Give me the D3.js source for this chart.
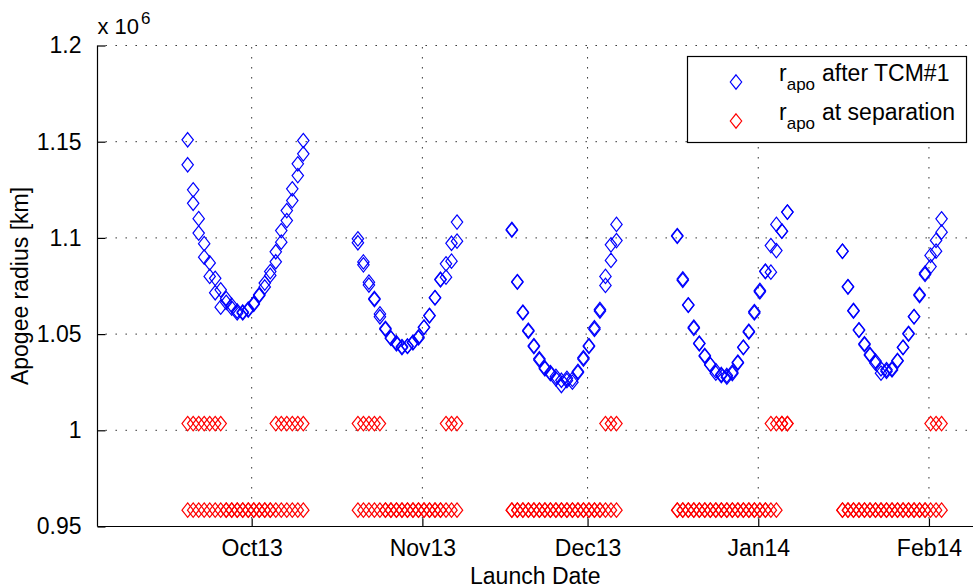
<!DOCTYPE html>
<html>
<head>
<meta charset="utf-8">
<script src="https://cdn.jsdelivr.net/npm/d3@7"></script>
<style>
  body { margin: 0; background: #fff; }
  text { font-family: "Liberation Sans", Arial, Helvetica, sans-serif; fill: #000; }
</style>
</head>
<body>
<div id="chart"></div>
<script>
// first launch day of each window (UTC)
const windowStarts = ["2013-09-19T09:00Z", "2013-10-20T07:00Z", "2013-11-17T06:00Z", "2013-12-17T07:00Z", "2014-01-16T07:00Z"]

// r_apo after TCM#1 [x 10^6 km], two launch solutions per day
const tcmOct = [[1.151, 1.138], [1.125, 1.118], [1.110, 1.1025], [1.097, 1.090], [1.087, 1.080], [1.079, 1.0715],
  [1.073, 1.064], [1.0685, 1.0665], [1.065, 1.0635], [1.062, 1.061], [1.061, 1.0615], [1.063, 1.0625],
  [1.066, 1.0655], [1.0705, 1.070], [1.0765, 1.0745], [1.0825, 1.0805], [1.0928, 1.0876], [1.1038, 1.0978],
  [1.1142, 1.109], [1.1255, 1.1194], [1.1385, 1.1324], [1.1506, 1.1437]]
const tcmNov = [[1.0995, 1.0975], [1.0875, 1.086], [1.077, 1.0755], [1.0685, 1.068], [1.0605, 1.059], [1.053, 1.0525],
  [1.048, 1.0478], [1.0455, 1.045], [1.0435, 1.043], [1.0436, 1.0438], [1.0458, 1.0455], [1.0485, 1.048],
  [1.0536, 1.0535], [1.0597, 1.0595], [1.069, 1.0688], [1.0782, 1.0785], [1.0865, 1.0796], [1.0972, 1.0879],
  [1.1082, 1.0983]]
const tcmDec = [[1.1044, 1.104], [1.0773, 1.077], [1.0614, 1.061], [1.052, 1.0515], [1.044, 1.0435], [1.0372, 1.0365],
  [1.0325, 1.032], [1.030, 1.0295], [1.0268, 1.028], [1.0233, 1.026], [1.0259, 1.027], [1.025, 1.0265],
  [1.0306, 1.030], [1.0377, 1.037], [1.0436, 1.044], [1.0533, 1.0525], [1.0628, 1.062], [1.0753, 1.080],
  [1.0883, 1.0964], [1.0986, 1.107]]
const tcmJan = [[1.1012, 1.1008], [1.0787, 1.078], [1.0652, 1.065], [1.0536, 1.053], [1.0453, 1.045], [1.0389, 1.0385],
  [1.0342, 1.034], [1.0297, 1.031], [1.0285, 1.029], [1.0276, 1.0285], [1.0302, 1.0295], [1.0354, 1.035],
  [1.0432, 1.043], [1.0515, 1.051], [1.0617, 1.061], [1.0727, 1.072], [1.0827, 1.0825], [1.0822, 1.096],
  [1.0934, 1.107], [1.1035, 1.1035], [1.1134, 1.1134]]
const tcmFeb = [[1.0931, 1.093], [1.0747, 1.0745], [1.0623, 1.062], [1.0522, 1.052], [1.045, 1.0445], [1.0394, 1.039],
  [1.0349, 1.036], [1.0297, 1.032], [1.0307, 1.0315], [1.0314, 1.032], [1.0363, 1.036], [1.0432, 1.043],
  [1.0504, 1.050], [1.0591, 1.059], [1.0706, 1.070], [1.0817, 1.081], [1.0851, 1.0909], [1.0931, 1.0987],
  [1.103, 1.1099]]

// r_apo at separation [x 10^6 km]
const sepOct = [[0.9585, 1.0035], [0.9585, 1.0035], [0.9585, 1.0035], [0.9585, 1.0035], [0.9585, 1.0035], [0.9585, 1.0035],
  [0.9585, 1.0035], [0.9585, 0.9585], [0.9585, 0.9585], [0.9585, 0.9585], [0.9585, 0.9585], [0.9585, 0.9585],
  [0.9585, 0.9585], [0.9585, 0.9585], [0.9585, 0.9585], [0.9585, 0.9585], [0.9585, 1.0035], [0.9585, 1.0035],
  [0.9585, 1.0035], [0.9585, 1.0035], [0.9585, 1.0035], [0.9585, 1.0035]]
const sepNov = [[0.9585, 1.0035], [0.9585, 1.0035], [0.9585, 1.0035], [0.9585, 1.0035], [0.9585, 1.0035], [0.9585, 0.9585],
  [0.9585, 0.9585], [0.9585, 0.9585], [0.9585, 0.9585], [0.9585, 0.9585], [0.9585, 0.9585], [0.9585, 0.9585],
  [0.9585, 0.9585], [0.9585, 0.9585], [0.9585, 0.9585], [0.9585, 0.9585], [0.9585, 1.0035], [0.9585, 1.0035],
  [0.9585, 1.0035]]
const sepDec = [[0.9585, 0.9585], [0.9585, 0.9585], [0.9585, 0.9585], [0.9585, 0.9585], [0.9585, 0.9585], [0.9585, 0.9585],
  [0.9585, 0.9585], [0.9585, 0.9585], [0.9585, 0.9585], [0.9585, 0.9585], [0.9585, 0.9585], [0.9585, 0.9585],
  [0.9585, 0.9585], [0.9585, 0.9585], [0.9585, 0.9585], [0.9585, 0.9585], [0.9585, 0.9585], [0.9585, 1.0035],
  [0.9585, 1.0035], [0.9585, 1.0035]]
const sepJan = [[0.9585, 0.9585], [0.9585, 0.9585], [0.9585, 0.9585], [0.9585, 0.9585], [0.9585, 0.9585], [0.9585, 0.9585],
  [0.9585, 0.9585], [0.9585, 0.9585], [0.9585, 0.9585], [0.9585, 0.9585], [0.9585, 0.9585], [0.9585, 0.9585],
  [0.9585, 0.9585], [0.9585, 0.9585], [0.9585, 0.9585], [0.9585, 0.9585], [0.9585, 0.9585], [0.9585, 1.0035],
  [0.9585, 1.0035], [1.0035, 1.0035], [1.0035, 1.0035]]
const sepFeb = [[0.9585, 0.9585], [0.9585, 0.9585], [0.9585, 0.9585], [0.9585, 0.9585], [0.9585, 0.9585], [0.9585, 0.9585],
  [0.9585, 0.9585], [0.9585, 0.9585], [0.9585, 0.9585], [0.9585, 0.9585], [0.9585, 0.9585], [0.9585, 0.9585],
  [0.9585, 0.9585], [0.9585, 0.9585], [0.9585, 0.9585], [0.9585, 0.9585], [0.9585, 1.0035], [0.9585, 1.0035],
  [0.9585, 1.0035]]

const tcmWindows = [tcmOct, tcmNov, tcmDec, tcmJan, tcmFeb]
const sepWindows = [sepOct, sepNov, sepDec, sepJan, sepFeb]

// axis limits and ticks
const xLimits = ["2013-09-03T00:00Z", "2014-02-09T00:00Z"]
const xTicks = ["2013-10-01T00:00Z", "2013-11-01T00:00Z", "2013-12-01T00:00Z", "2014-01-01T00:00Z", "2014-02-01T00:00Z"]
const yLimits = [0.95, 1.2]
const yTicks = [0.95, 1, 1.05, 1.1, 1.15, 1.2]

const width = 973, height = 588
const plotLeft = 97.5, plotRight = 973, plotTop = 45.5, plotBottom = 526.5
const diamond = "M0,-7.2L5.7,0L0,7.2L-5.7,0Z"
const fontSize = "23px"

function toPoints(windows) {
    return windows.flatMap((days, w) => days.flatMap((vals, i) =>
        vals.map(v => ({ date: d3.utcDay.offset(new Date(windowStarts[w]), i), value: v }))))
}

var svg = d3.select("#chart")
    .append("svg")
    .attr("width", width)
    .attr("height", height)

var x = d3.scaleUtc()
    .domain(xLimits.map(d => new Date(d)))
    .range([plotLeft, plotRight])

var y = d3.scaleLinear()
    .domain(yLimits)
    .range([plotBottom, plotTop])

// dotted grid
const grid = svg.append("g")
    .attr("stroke", "#222")
    .attr("stroke-width", 1)
    .attr("stroke-dasharray", "1.4,8.6")

grid.selectAll(".gy")
    .data(yTicks.slice(1))
    .enter()
    .append("line")
    .attr("x1", plotLeft + 8).attr("x2", plotRight)
    .attr("y1", d => y(d)).attr("y2", d => y(d))

grid.selectAll(".gx")
    .data(xTicks)
    .enter()
    .append("line")
    .attr("x1", d => x(new Date(d))).attr("x2", d => x(new Date(d)))
    .attr("y1", plotBottom - 8).attr("y2", plotTop)

// axes (MATLAB style: ticks inside, no box)
const yAxis = svg.append("g")
    .attr("transform", `translate(${plotLeft},0)`)
    .call(d3.axisLeft(y).tickValues(yTicks).tickSize(-8).tickPadding(16)
        .tickFormat(d => String(+d.toFixed(2))))
yAxis.select(".domain").attr("d", `M0,${plotTop}V${plotBottom}`)

const xAxis = svg.append("g")
    .attr("transform", `translate(0,${plotBottom})`)
    .call(d3.axisBottom(x).tickValues(xTicks.map(d => new Date(d))).tickSize(-8).tickPadding(13)
        .tickFormat(d3.utcFormat("%b%y")))
xAxis.select(".domain").attr("d", `M${plotLeft},0H${plotRight}`)

svg.selectAll(".tick text")
    .style("font-size", fontSize)
    .style("font-family", "'Liberation Sans', Arial, sans-serif")
    .attr("fill", "#000")
svg.selectAll(".domain, .tick line").attr("stroke", "#000").attr("stroke-width", 1.2)

// exponent
svg.append("text")
    .attr("x", plotLeft)
    .attr("y", 34)
    .style("font-size", "22px")
    .text("x 10")
    .append("tspan")
    .attr("dy", -10)
    .attr("dx", 2)
    .style("font-size", "17px")
    .text("6")

// axis labels
svg.append("text")
    .attr("x", (plotLeft + plotRight) / 2)
    .attr("y", 584)
    .attr("text-anchor", "middle")
    .style("font-size", fontSize)
    .text("Launch Date")

svg.append("text")
    .attr("transform", `translate(28,${(plotTop + plotBottom) / 2}) rotate(-90)`)
    .attr("text-anchor", "middle")
    .style("font-size", fontSize)
    .text("Apogee radius [km]")

// Add the markers
svg.append("g")
    .selectAll("path")
    .data(toPoints(tcmWindows))
    .enter()
    .append("path")
    .attr("d", diamond)
    .attr("transform", d => `translate(${x(d.date)},${y(d.value)})`)
    .attr("fill", "none")
    .attr("stroke", "#0000ff")
    .attr("stroke-width", 1.2)

svg.append("g")
    .selectAll("path")
    .data(toPoints(sepWindows))
    .enter()
    .append("path")
    .attr("d", diamond)
    .attr("transform", d => `translate(${x(d.date)},${y(d.value)})`)
    .attr("fill", "none")
    .attr("stroke", "#ff0000")
    .attr("stroke-width", 1.2)

// legend
const legendItems = [
    { color: "#0000ff", label: "after TCM#1" },
    { color: "#ff0000", label: "at separation" }
]
const legend = svg.append("g")
legend.append("rect")
    .attr("x", 687.5).attr("y", 56.5)
    .attr("width", 279).attr("height", 86)
    .attr("fill", "#fff")
    .attr("stroke", "#000")
    .attr("stroke-width", 1.2)

const item = legend.selectAll(".item")
    .data(legendItems)
    .enter()
    .append("g")
    .attr("transform", (d, i) => `translate(0,${82 + i * 39})`)

item.append("path")
    .attr("d", diamond)
    .attr("transform", "translate(736,0)")
    .attr("fill", "none")
    .attr("stroke", d => d.color)
    .attr("stroke-width", 1.2)

const label = item.append("text")
    .attr("x", 779)
    .attr("y", -1.5)
    .style("font-size", fontSize)
label.append("tspan").text("r")
label.append("tspan")
    .attr("dy", 9.5)
    .style("font-size", "17px")
    .text("apo")
label.append("tspan")
    .attr("dy", -9.5)
    .attr("dx", 7)
    .text(d => d.label)
</script>
</body>
</html>
